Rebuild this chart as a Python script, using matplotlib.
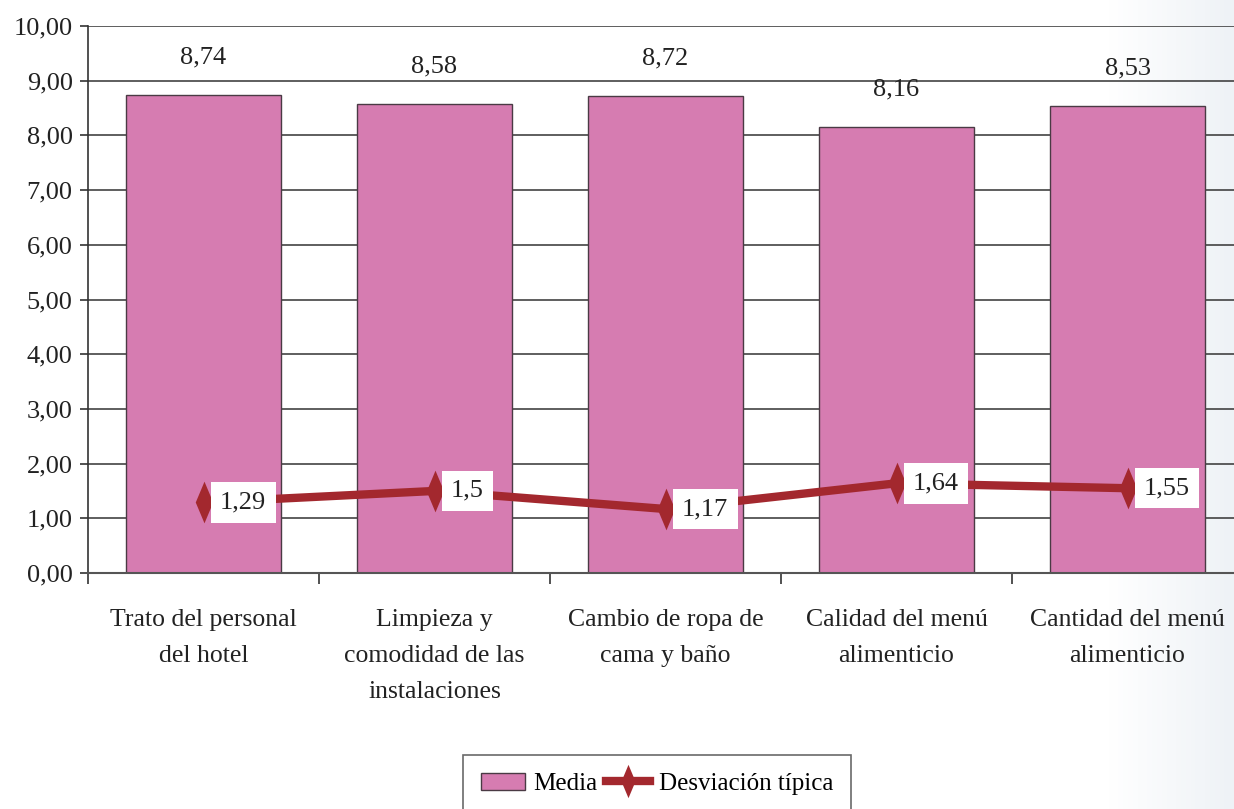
import numpy as np
import matplotlib
matplotlib.use("Agg")
import matplotlib.pyplot as plt
from matplotlib.path import Path
from matplotlib.ticker import FuncFormatter, FixedLocator

categorias = ["Trato del personal\ndel hotel",
              "Limpieza y\ncomodidad de las\ninstalaciones",
              "Cambio de ropa de\ncama y baño",
              "Calidad del menú\nalimenticio",
              "Cantidad del menú\nalimenticio"]
media = [8.74, 8.58, 8.72, 8.16, 8.53]
desviacion = [1.29, 1.5, 1.17, 1.64, 1.55]
etiquetas_media = ["8,74", "8,58", "8,72", "8,16", "8,53"]
etiquetas_desv = ["1,29", "1,5", "1,17", "1,64", "1,55"]

plt.rcParams['font.family'] = ['Liberation Serif', 'DejaVu Serif']

fig = plt.figure(figsize=(12.34, 8.09), dpi=100)

# degradado suave a la derecha del fondo
grad = np.linspace(0, 1, 256)
grad = np.clip((grad - 0.9) / 0.1, 0, 1)[None, :]
bg = fig.add_axes([0, 0, 1, 1], zorder=-10)
bg.imshow(grad, aspect='auto', cmap=matplotlib.colors.LinearSegmentedColormap.from_list(
    "g", ["#ffffff", "#eef2f6"]), extent=[0, 1, 0, 1])
bg.axis('off')

ax = fig.add_axes([88/1234, 1 - 573/809, 1155/1234, 547/809])
ax.patch.set_alpha(0)
x = np.arange(len(categorias))

ax.set_ylim(0, 10)
ax.set_xlim(-0.5, len(categorias) - 0.5)
ax.yaxis.set_major_locator(FixedLocator(np.arange(0, 11, 1)))
ax.yaxis.set_major_formatter(FuncFormatter(lambda v, p: f"{v:.2f}".replace(".", ",")))
ax.grid(axis='y', color='#333333', linewidth=1.1, zorder=0)
ax.set_axisbelow(True)

bars = ax.bar(x, media, width=0.67, color='#d67cb1', edgecolor='#4a3a44',
              linewidth=1.0, zorder=2, label='Media')
for xi, v, t in zip(x, media, etiquetas_media):
    ax.annotate(t, (xi, v), xytext=(0, 27), textcoords='offset points',
                ha='center', va='center', fontsize=19, color='#222222')

# rombo estrecho como en el original
rombo = Path([(0, 1), (0.42, 0), (0, -1), (-0.42, 0), (0, 1)],
             [Path.MOVETO, Path.LINETO, Path.LINETO, Path.LINETO, Path.CLOSEPOLY])
linea, = ax.plot(x, desviacion, color='#a3282e', linewidth=6, marker=rombo, markersize=30,
                 markeredgewidth=0, zorder=3, label='Desviación típica')
for xi, v, t in zip(x, desviacion, etiquetas_desv):
    ax.annotate(t, (xi, v), xytext=(12, 0), textcoords='offset points',
                ha='left', va='center', fontsize=19, color='#222222', zorder=4,
                bbox=dict(boxstyle='square,pad=0.35', facecolor='white', edgecolor='none'))

ax.set_xticks(x)
ax.set_xticklabels(categorias, fontsize=18.5, color='#222222', linespacing=1.82)
ax.set_xticks(np.arange(-0.5, len(categorias)), minor=True)
ax.tick_params(axis='x', which='major', length=0, pad=26)
ax.tick_params(axis='x', which='minor', length=8, width=1.2, color='#333333')
ax.tick_params(axis='y', length=6, width=1.2, color='#333333', labelsize=19,
               labelcolor='#222222', pad=5)

for s in ['top', 'right']:
    ax.spines[s].set_visible(False)
ax.spines['left'].set_color('#333333')
ax.spines['left'].set_linewidth(1.2)
ax.spines['bottom'].set_color('#555555')
ax.spines['bottom'].set_linewidth(1.5)

leg = fig.legend([bars, linea], ['Media', 'Desviación típica'], loc='upper center',
                 bbox_to_anchor=(657/1234, 1 - 755/809), ncol=2, borderaxespad=0,
                 fontsize=18, frameon=True, fancybox=False, edgecolor='#444444',
                 handlelength=1.75, columnspacing=0.35, handletextpad=0.35,
                 borderpad=0.7, markerscale=0.8)
leg.get_frame().set_linewidth(1.2)

fig.savefig("out.png", dpi=100)
